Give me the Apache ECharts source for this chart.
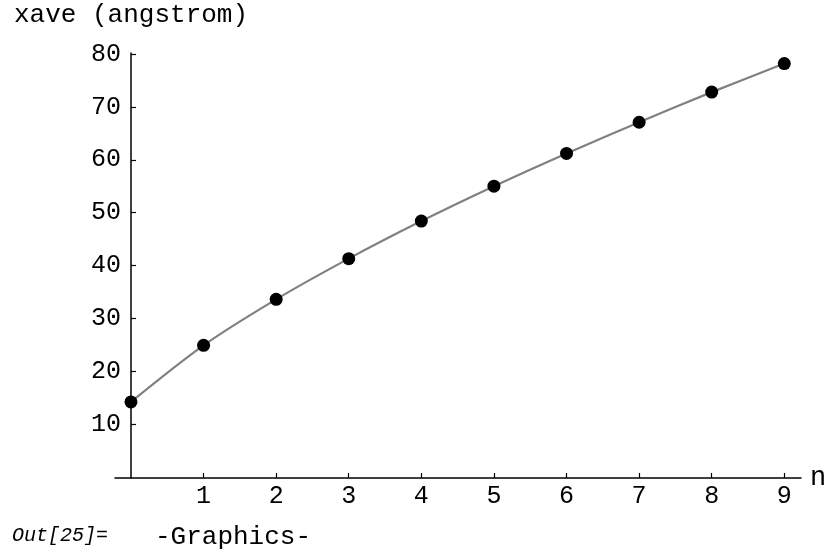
<!DOCTYPE html>
<html>
<head>
<meta charset="utf-8">
<script src="https://cdn.jsdelivr.net/npm/echarts@6/dist/echarts.min.js"></script>
<style>
  html, body { margin: 0; padding: 0; background: #fff; }
  #chart { width: 833px; height: 552px; }
</style>
</head>
<body>
<div id="chart"></div>
<script>
// n values and mean extension (angstrom)
const nValues = [0, 1, 2, 3, 4, 5, 6, 7, 8, 9];
const xave = [14.2, 24.9, 33.6, 41.3, 48.4, 55.0, 61.2, 67.1, 72.8, 78.2];
const xTicks = [1, 2, 3, 4, 5, 6, 7, 8, 9];
const yTicks = [10, 20, 30, 40, 50, 60, 70, 80];

const FONT = '"Liberation Mono", "DejaVu Sans Mono", monospace';

const chart = echarts.init(document.getElementById('chart'), null, { renderer: 'canvas' });

chart.setOption({
  animation: false,
  backgroundColor: '#ffffff',
  title: {
    text: 'xave (angstrom)',
    left: 9,
    top: -3,
    textStyle: { fontFamily: FONT, fontSize: 26, fontWeight: 'normal', color: '#000' }
  },
  grid: { left: 115, right: 32, top: 53, bottom: 74 },
  xAxis: {
    type: 'value',
    min: -0.22,
    max: 9.23,
    name: 'n',
    nameLocation: 'end',
    nameGap: 9,
    nameTextStyle: { fontFamily: FONT, fontSize: 27, color: '#000', verticalAlign: 'middle' },
    splitLine: { show: false },
    axisLine: { onZero: false, lineStyle: { color: '#000', width: 1.5 } },
    axisTick: { inside: true, length: 5, customValues: xTicks, lineStyle: { color: '#000', width: 1.2 } },
    axisLabel: { customValues: xTicks, margin: 6, fontFamily: FONT, fontSize: 25, color: '#000' }
  },
  yAxis: {
    type: 'value',
    min: -0.2,
    max: 80.2,
    splitLine: { show: false },
    axisLine: { onZero: true, lineStyle: { color: '#000', width: 1.5 } },
    axisTick: { inside: true, length: 5, customValues: yTicks, lineStyle: { color: '#000', width: 1.2 } },
    axisLabel: { customValues: yTicks, margin: -6, fontFamily: FONT, fontSize: 25, color: '#000' }
  },
  series: [{
    type: 'line',
    data: nValues.map((n, i) => [n, xave[i]]),
    smooth: 0.3,
    symbol: 'circle',
    symbolSize: 13,
    itemStyle: { color: '#000' },
    lineStyle: { color: '#808080', width: 2.2 },
    z: 3
  }],
  graphic: [
    {
      type: 'text',
      left: 12,
      top: 526,
      style: { text: 'Out[25]=', fontFamily: FONT, fontStyle: 'italic', fontSize: 20, fill: '#000' }
    },
    {
      type: 'text',
      left: 155,
      top: 524,
      style: { text: '-Graphics-', fontFamily: FONT, fontSize: 26, fill: '#000' }
    }
  ]
});
</script>
</body>
</html>
